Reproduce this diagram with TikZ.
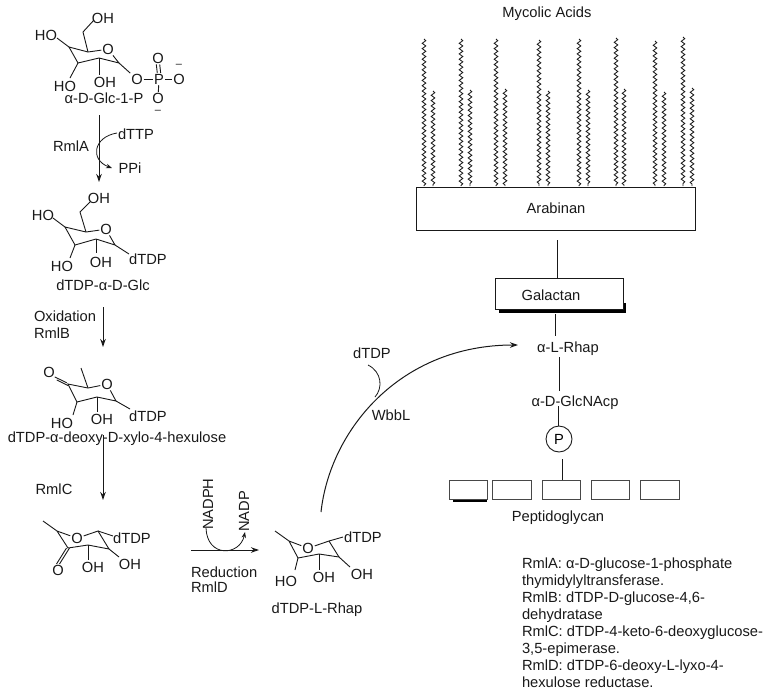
\documentclass[tikz,border=0pt]{standalone}
\usepackage{fontspec}
\setmainfont{Liberation Sans}
\usetikzlibrary{arrows.meta,decorations.pathmorphing}
\definecolor{ink}{gray}{0.1}
\tikzset{
  lab/.style={font=\fontsize{14.7}{17}\selectfont,text=ink,inner sep=0.8pt,yshift=-1.2pt},
  minus/.style={font=\fontsize{11}{11}\selectfont,text=ink,inner sep=0pt},
  bond/.style={draw=ink,line width=0.9pt},
  arr/.style={draw=ink,line width=1pt,-{Stealth[length=8pt,width=5.5pt]}},
  arrs/.style={draw=ink,line width=0.8pt,-{Stealth[length=6pt,width=4.5pt]}},
  box/.style={draw=ink,fill=white,line width=0.9pt,inner sep=0pt},
  chain/.style={draw=ink,line width=0.85pt,decorate,decoration={snake,segment length=5.3pt,amplitude=1.8pt}},
}
\begin{document}
\begin{tikzpicture}[x=1pt,y=-1pt]
\useasboundingbox (0,0) rectangle (770,694);
% --- a-D-Glc-1-P
\node[lab] (aoh) at (103,17) {OH};
\node[lab] (aho) at (46,34) {HO};
\node[lab] (ao) at (108,48) {O};
\node[lab] (aho2) at (65,85) {HO};
\node[lab] (aoh2) at (105,81) {OH};
\node[lab] (ao1) at (137,78) {O};
\node[lab] (ap) at (159,78) {P};
\node[lab] (aot) at (158,57) {O};
\node[lab] (aor) at (179,78) {O};
\node[lab] (aob) at (158,97) {O};
\node[minus] (amr) at (179,66) {–};
\node[minus] (amb) at (158,112) {–};
\node[lab] (aname) at (104,97) {α-D-Glc-1-P};
\coordinate (ac5) at (88,52); \coordinate (ac6) at (83,32);
\coordinate (ac4) at (69,47); \coordinate (ac3) at (78,63);
\coordinate (ac2) at (99,58); \coordinate (ac1) at (119,63);
\coordinate (ae4) at (57,38); \coordinate (ae3) at (70,78);
\coordinate (ae2) at (99,75); \coordinate (ae6) at (94,20);
\draw[bond] (ao)--(ac5)--(ac4)--(ac3)--(ac2)--(ac1)--(ao);
\draw[bond] (ac5)--(ac6)--(ae6);
\draw[bond] (ac4)--(ae4); \draw[bond] (ac3)--(ae3); \draw[bond] (ac2)--(ae2);
\draw[bond] (ac1)--(ao1); \draw[bond] (ao1)--(ap); \draw[bond] (ap)--(aor); \draw[bond] (ap)--(aob);
\draw[bond] ([xshift=-1.7pt]ap.north)--([xshift=-1.7pt]aot.south);
\draw[bond] ([xshift=1.7pt]ap.north)--([xshift=1.7pt]aot.south);
% --- first arrow
\node[lab] (rmla) at (71,145) {RmlA};
\node[lab] (dttp) at (136,133) {dTTP};
\node[lab] (ppi) at (130,167) {PPi};
\coordinate (a1s) at (99,115); \coordinate (a1e) at (99,182);
\coordinate (c1s) at (117,133); \coordinate (c1e) at (112,168);
\draw[arr] (a1s)--(a1e);
\draw[arrs] (c1s) .. controls (93,137) and (90,160) .. (c1e);
% --- dTDP-a-D-Glc
\node[lab] (boh) at (99,197) {OH};
\node[lab] (bho) at (43,214) {HO};
\node[lab] (bo) at (106,228) {O};
\node[lab] (bho2) at (62,265) {HO};
\node[lab] (boh2) at (101,261) {OH};
\node[lab] (bt) at (148,258) {dTDP};
\node[lab] (bname) at (103,284) {dTDP-α-D-Glc};
\coordinate (bc5) at (86,232); \coordinate (bc6) at (80,212);
\coordinate (bc4) at (65,227); \coordinate (bc3) at (75,245);
\coordinate (bc2) at (96,239); \coordinate (bc1) at (115,245);
\coordinate (be6) at (90,202); \coordinate (be4) at (53,218);
\coordinate (be3) at (70,258); \coordinate (be2) at (96,253); \coordinate (be1) at (129,254);
\draw[bond] (bo)--(bc5)--(bc4)--(bc3)--(bc2)--(bc1)--(bo);
\draw[bond] (bc5)--(bc6)--(be6);
\draw[bond] (bc4)--(be4); \draw[bond] (bc3)--(be3); \draw[bond] (bc2)--(be2); \draw[bond] (bc1)--(be1);
% --- second arrow
\node[lab,anchor=west] (oxi) at (33,315) {Oxidation};
\node[lab,anchor=west] (rmlb) at (33,332) {RmlB};
\coordinate (a2s) at (103,307); \coordinate (a2e) at (103,347);
\draw[arr] (a2s)--(a2e);
% --- hexulose
\node[lab] (co1) at (49,371) {O};
\node[lab] (co) at (107,383) {O};
\node[lab] (cho) at (62,422) {HO};
\node[lab] (coh) at (102,418) {OH};
\node[lab] (ct) at (148,415) {dTDP};
\node[lab] (cname) at (117,437) {dTDP-α-deoxy-D-xylo-4-hexulose};
\coordinate (cc4) at (68,384); \coordinate (cc5) at (88,388); \coordinate (cc6) at (81,368);
\coordinate (cc1) at (116,401); \coordinate (cc3) at (77,402); \coordinate (cc2) at (97,397);
\coordinate (ce1) at (130,409); \coordinate (ce2) at (97,412); \coordinate (ce3) at (73,415);
\draw[bond] (co)--(cc5)--(cc4)--(cc3)--(cc2)--(cc1)--(co);
\draw[bond] (cc5)--(cc6);
\draw[bond] (cc3)--(ce3); \draw[bond] (cc2)--(ce2); \draw[bond] (cc1)--(ce1);
\draw[bond] ([yshift=-1.5pt]cc4)--([xshift=1pt,yshift=-1.5pt]co1.south east);
\draw[bond] ([xshift=-1.2pt,yshift=1.2pt]cc4)--([xshift=-1pt,yshift=1.5pt]co1.south east);
% --- third arrow
\node[lab] (rmlc) at (54,488) {RmlC};
\coordinate (a3s) at (103,435); \coordinate (a3e) at (103,500);
\draw[arr] (a3s)--(a3e);
% --- keto sugar
\node[lab] (do) at (77,537) {O};
\node[lab] (dt) at (132,537) {dTDP};
\node[lab] (do1) at (58,569) {O};
\node[lab] (doh) at (93,566) {OH};
\node[lab] (doh2) at (130,563) {OH};
\coordinate (dc6) at (43,521); \coordinate (dc5) at (57,531); \coordinate (dc4) at (68,548);
\coordinate (dc3) at (88,545); \coordinate (dc2) at (109,549); \coordinate (dc1) at (98,531);
\coordinate (de1) at (113,536); \coordinate (de2) at (119,557); \coordinate (de3) at (88,560);
\draw[bond] (dc6)--(dc5)--(do)--(dc1)--(dc2)--(dc3)--(dc4)--(dc5);
\draw[bond] (dc1)--(de1); \draw[bond] (dc2)--(de2); \draw[bond] (dc3)--(de3);
\draw[bond] ([xshift=-1.5pt]dc4)--([xshift=-1.5pt]do1.north);
\draw[bond] ([xshift=1.5pt]dc4)--([xshift=1.5pt]do1.north);
% --- reduction arrow
\node[lab,rotate=90] (nadph) at (208,503) {NADPH};
\node[lab,rotate=90] (nadp) at (244,510) {NADP};
\node[lab,anchor=west] (redu) at (190,571) {Reduction};
\node[lab,anchor=west] (rmld) at (190,586) {RmlD};
\coordinate (a4s) at (191,550); \coordinate (a4e) at (259,550);
\coordinate (c4s) at (206,528); \coordinate (c4e) at (245,532);
\draw[arr] (a4s)--(a4e);
\draw[arrs] (c4s) .. controls (207,558) and (240,556) .. (c4e);
% --- dTDP-L-Rhap
\node[lab] (eo) at (308,547) {O};
\node[lab] (et) at (363,536) {dTDP};
\node[lab] (eho) at (286,580) {HO};
\node[lab] (eoh) at (324,576) {OH};
\node[lab] (eoh2) at (362,573) {OH};
\node[lab] (ename) at (317,608) {dTDP-L-Rhap};
\coordinate (ec6) at (275,531); \coordinate (ec5) at (289,541); \coordinate (ec4) at (298,558);
\coordinate (ec3) at (319,554); \coordinate (ec2) at (339,557); \coordinate (ec1) at (329,541);
\coordinate (ee1) at (343,537); \coordinate (ee2) at (350,567); \coordinate (ee3) at (319,570); \coordinate (ee4) at (295,570);
\draw[bond] (ec6)--(ec5)--(eo)--(ec1)--(ec2)--(ec3)--(ec4)--(ec5);
\draw[bond] (ec1)--(ee1); \draw[bond] (ec2)--(ee2); \draw[bond] (ec3)--(ee3); \draw[bond] (ec4)--(ee4);
% --- WbbL curve
\node[lab] (ldtdp) at (372,352) {dTDP};
\node[lab] (wbbl) at (391,414) {WbbL};
\node[lab] (lrhap) at (568,347) {α-L-Rhap};
\coordinate (w1s) at (321,512); \coordinate (w1e) at (518,345);
\coordinate (w2s) at (375,397); \coordinate (w2e) at (368,365);
\draw[arr] (w1s) .. controls (330,430) and (400,345) .. (w1e);
\draw[bond,line width=0.8pt] (w2s) .. controls (383,388) and (382,372) .. (w2e);
% --- Mycolic acids
\node[lab] (myco) at (547,12) {Mycolic Acids};
\foreach \x/\t in {424/39,461/39,496/39,539/40,579/39,616/38,655/41,683/37,433/91,470/90,505/89,548/91,588/90,624/89,664/92,692/88}
  \draw[chain] (\x,\t)--(\x,186);
\node[box,minimum width=279pt,minimum height=43pt] (arab) at (555.5,208.5) {};
\node[lab] (arabt) at (556,207) {Arabinan};
% --- Galactan
\fill[black] (499,303) rectangle (626,312.5);
\node[box,minimum width=128pt,minimum height=31pt] (gal) at (559,293.5) {};
\node[lab] (galt) at (551,294) {Galactan};
\coordinate (l1s) at (557,240);
\draw[bond] (l1s)--(gal.north -| l1s);
\coordinate (l2s) at (555,314); \coordinate (l2e) at (555,336);
\draw[bond] (l2s)--(l2e);
\coordinate (l3s) at (559,357); \coordinate (l3e) at (559,391);
\draw[bond] (l3s)--(l3e);
\node[lab] (glcn) at (575,401) {α-D-GlcNAcp};
\node[draw=ink,circle,line width=0.9pt,minimum size=26pt,inner sep=0pt,font=\fontsize{14.7}{17}\selectfont] (pc) at (559,439) {P};
\coordinate (l4s) at (558,406);
\draw[bond] (l4s)--(pc.north -| l4s);
% --- Peptidoglycan
\fill[black] (453,499) rectangle (487,502);
\tikzset{pbox/.style={draw=ink!80,fill=white,line width=1pt}}
\node[pbox,minimum width=38pt,minimum height=19pt,inner sep=0pt] (p1) at (468,489.5) {};
\node[pbox,minimum width=39pt,minimum height=19pt,inner sep=0pt] (p2) at (511.5,489.5) {};
\node[pbox,minimum width=38pt,minimum height=19pt,inner sep=0pt] (p3) at (561,489.5) {};
\node[pbox,minimum width=38pt,minimum height=19pt,inner sep=0pt] (p4) at (610,489.5) {};
\node[pbox,minimum width=39pt,minimum height=19pt,inner sep=0pt] (p5) at (659.5,489.5) {};
\coordinate (l5s) at (562,459);
\draw[bond] (l5s)--(p3.north -| l5s);
\node[lab] (pepg) at (558,516) {Peptidoglycan};
% --- legend
\node[lab,anchor=north west,align=left,font=\fontsize{14.7}{16.9}\selectfont] (legend) at (521,556) {RmlA: α-D-glucose-1-phosphate\\thymidylyltransferase.\\RmlB: dTDP-D-glucose-4,6-\\dehydratase\\RmlC: dTDP-4-keto-6-deoxyglucose-\\3,5-epimerase.\\RmlD: dTDP-6-deoxy-L-lyxo-4-\\hexulose reductase.};
\end{tikzpicture}
\end{document}
